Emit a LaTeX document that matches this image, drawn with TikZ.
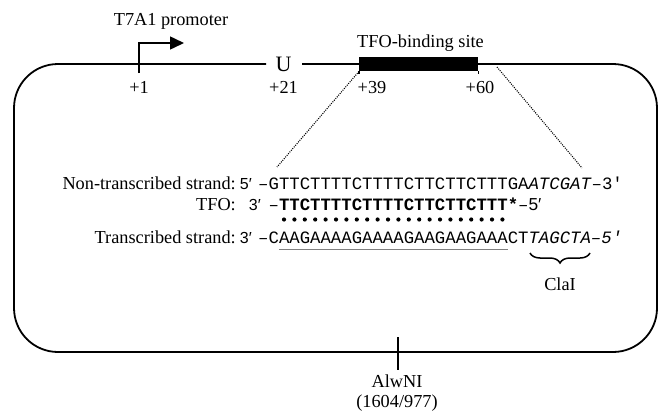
\documentclass[tikz,border=0pt]{standalone}
\usepackage{fontspec}
\setmainfont{Liberation Serif}
\setmonofont{Liberation Mono}
\newfontfamily\sansf{Liberation Sans}
\usetikzlibrary{decorations.pathreplacing,arrows.meta}
\begin{document}
\begin{tikzpicture}[x=1pt,y=-1pt,
  lbl/.style={font=\fontsize{18.3}{20}\selectfont, inner sep=0pt},
  seq/.style={font=\fontsize{17.33}{20}\selectfont\ttfamily, inner sep=0pt, anchor=base west},
  prim/.style={font=\sansf\fontsize{16}{20}\selectfont, inner sep=0pt, anchor=base east},
  frame/.style={line width=1.8pt},
  dotline/.style={line width=1.1pt, dash pattern=on 1pt off 1.2pt},
  tickline/.style={line width=1.5pt}]
\useasboundingbox (0,0) rectangle (660,415);
% plasmid frame
\draw[frame, rounded corners=44pt] (302,64) -- (657,64) -- (657,352) -- (14,352) -- (14,64) -- (266,64);
% U
\node[lbl, font=\fontsize{22}{24}\selectfont, anchor=base] (u) at (283.5,71) {U};
% TFO binding box
\node[fill=black, inner sep=0pt, minimum width=119pt, minimum height=14pt, anchor=north west] (box) at (359,57) {};
\draw[tickline] (box.south west) -- ++(0,3);
\draw[tickline] (box.south east) -- ++(0,3);
\node[lbl, anchor=base] (tfobs) at (420.5,47) {TFO-binding site};
% promoter
\coordinate (pbase) at (139,73);
\coordinate (pcorner) at (139,43);
\coordinate (ptip) at (184,43);
\draw[line width=1.5pt, -{Triangle[length=14pt,width=13pt]}] (pbase) -- (pcorner) -- (ptip);
\node[lbl, anchor=base] (prom) at (171,25) {T7A1 promoter};
% positions
\node[lbl, anchor=base] (n1) at (139,93) {+1};
\node[lbl, anchor=base] (n21) at (283.5,93) {+21};
\node[lbl, anchor=base] (n39) at (372,93) {+39};
\node[lbl, anchor=base] (n60) at (480,93) {+60};
% dotted zoom lines
\coordinate (dl) at (277,167);
\coordinate (dr0) at (497,67);
\coordinate (dr) at (582,168);
\draw[dotline] (box.south west) -- (dl);
\draw[dotline] (dr0) -- (dr);
% sequences
\node[lbl, anchor=base east] (l1) at (236,189) {Non-transcribed strand:};
\node[prim] (e1) at (252,189) {5′};
\node[seq] (r1) at (258,189) {–GTTCTTTTCTTTTCTTCTTCTTTGA\textit{ATCGAT}–3'};
\node[lbl, anchor=base east] (l2) at (236,210) {TFO:};
\node[prim] (e2) at (261,210) {3′};
\node[seq] (r2) at (268.4,210) {–\textbf{TTCTTTTCTTTTCTTCTTCTTT*}–{\sansf 5′}};
\foreach \i in {2,...,23} \fill ({258+(\i+0.5)*10.4},219.5) circle[radius=2.1pt];
\node[lbl, anchor=base east] (l3) at (236,243) {Transcribed strand:};
\node[prim] (e3) at (252,243) {3′};
\node[seq] (r3) at (258,243) {–CAAGAAAAGAAAAGAAGAAGAAACT\textit{TAGCTA–5′}};
\coordinate (ul0) at (278.8,249.5);
\coordinate (ul1) at (507.6,249.5);
\draw[gray, line width=1.3pt] (ul0) -- (ul1);
% ClaI brace
\coordinate (b0) at (530,253);
\coordinate (b1) at (590,253);
\draw[line width=1.5pt, decorate, decoration={brace, mirror, amplitude=10pt}] (b0) -- (b1);
\node[lbl] (cla) at (560,284) {ClaI};
% AlwNI
\coordinate (a0) at (398,337);
\coordinate (a1) at (398,370);
\draw[tickline] (a0) -- (a1);
\node[lbl] (alw) at (397,381) {AlwNI};
\node[lbl] (alwn) at (397,403) {(1604/977)};
\end{tikzpicture}
\end{document}
